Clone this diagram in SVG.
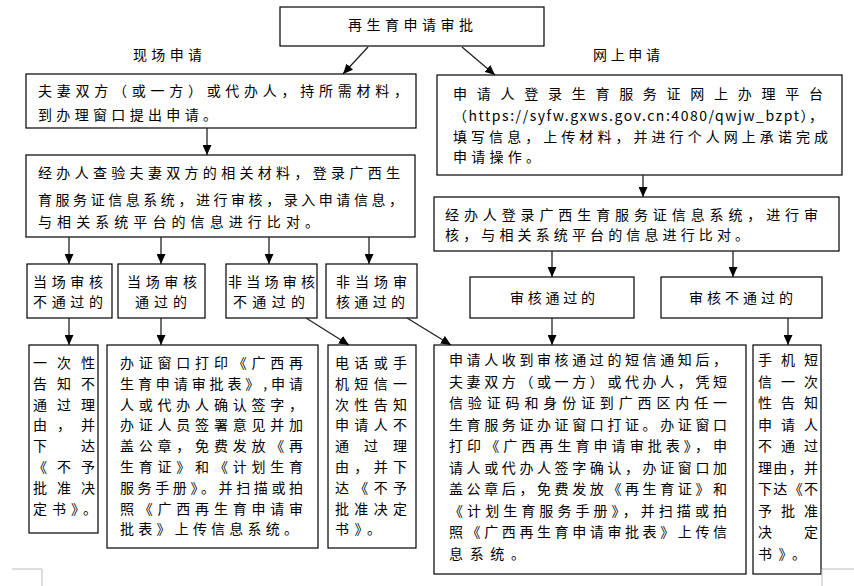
<svg xmlns="http://www.w3.org/2000/svg" width="854" height="586" viewBox="0 0 854 586">
<style>
.bx{fill:#fff;stroke:#000;stroke-width:1.2}
.t{font-family:"Noto Sans CJK SC","Noto Sans",sans-serif;font-size:14px;fill:#000}
.c{stroke:#222;stroke-width:1.3;fill:none;marker-end:url(#ah)}
.m{stroke:#bbb;stroke-width:1;fill:none}
</style>
<defs>
<marker id="ah" markerUnits="userSpaceOnUse" viewBox="0 0 10 9" refX="10" refY="4.5" markerWidth="10" markerHeight="9" orient="auto">
<path d="M0,0 L10,4.5 L0,9 z" fill="#000"/>
</marker>
</defs>
<rect width="854" height="586" fill="#fff"/>

<g id="title">
<rect class="bx" x="280" y="7" width="264" height="39"/>
<text class="t" x="348" y="30" textLength="125" lengthAdjust="spacing">再生育申请审批</text>
</g>
<g id="label-onsite"><text class="t" x="133" y="60" textLength="69" lengthAdjust="spacing">现场申请</text></g>
<g id="label-online"><text class="t" x="593" y="60" textLength="67" lengthAdjust="spacing">网上申请</text></g>

<g id="onsite-apply">
<rect class="bx" x="26" y="74" width="390" height="54"/>
<text class="t" x="38" y="96" textLength="370" lengthAdjust="spacing">夫妻双方（或一方）或代办人，持所需材料，</text>
<text class="t" x="38" y="120" textLength="179" lengthAdjust="spacing">到办理窗口提出申请。</text>
</g>

<g id="online-apply">
<rect class="bx" x="437" y="75" width="405" height="100"/>
<text class="t" x="453" y="99" textLength="370" lengthAdjust="spacing">申请人登录生育服务证网上办理平台</text>
<text class="t" x="453" y="121" textLength="370" lengthAdjust="spacing">（https://syfw.gxws.gov.cn:4080/qwjw_bzpt），</text>
<text class="t" x="453" y="142" textLength="375" lengthAdjust="spacing">填写信息，上传材料，并进行个人网上承诺完成</text>
<text class="t" x="453" y="162" textLength="87" lengthAdjust="spacing">申请操作。</text>
</g>

<g id="onsite-check">
<rect class="bx" x="26" y="155" width="389" height="82"/>
<text class="t" x="38" y="178" textLength="362" lengthAdjust="spacing">经办人查验夫妻双方的相关材料，登录广西生</text>
<text class="t" x="38" y="205" textLength="365" lengthAdjust="spacing">育服务证信息系统，进行审核，录入申请信息，</text>
<text class="t" x="38" y="227" textLength="281" lengthAdjust="spacing">与相关系统平台的信息进行比对。</text>
</g>

<g id="online-check">
<rect class="bx" x="434" y="197" width="405" height="54"/>
<text class="t" x="445" y="220" textLength="373" lengthAdjust="spacing">经办人登录广西生育服务证信息系统，进行审</text>
<text class="t" x="445" y="240" textLength="304" lengthAdjust="spacing">核，与相关系统平台的信息进行比对。</text>
</g>

<g id="onsite-fail">
<rect class="bx" x="27" y="264" width="85" height="54"/>
<text class="t" x="33" y="287" textLength="70" lengthAdjust="spacing">当场审核</text>
<text class="t" x="33" y="307" textLength="70" lengthAdjust="spacing">不通过的</text>
</g>
<g id="onsite-pass">
<rect class="bx" x="118" y="264" width="87" height="54"/>
<text class="t" x="127" y="287" textLength="70" lengthAdjust="spacing">当场审核</text>
<text class="t" x="135" y="307" textLength="52" lengthAdjust="spacing">通过的</text>
</g>
<g id="later-fail">
<rect class="bx" x="226" y="264" width="91" height="54"/>
<text class="t" x="228" y="287" textLength="87" lengthAdjust="spacing">非当场审核</text>
<text class="t" x="233" y="307" textLength="72" lengthAdjust="spacing">不通过的</text>
</g>
<g id="later-pass">
<rect class="bx" x="326" y="264" width="91" height="54"/>
<text class="t" x="336" y="287" textLength="71" lengthAdjust="spacing">非当场审</text>
<text class="t" x="336" y="307" textLength="69" lengthAdjust="spacing">核通过的</text>
</g>

<g id="online-pass">
<rect class="bx" x="470" y="277" width="164" height="41"/>
<text class="t" x="510" y="303" textLength="85" lengthAdjust="spacing">审核通过的</text>
</g>
<g id="online-fail">
<rect class="bx" x="661" y="277" width="161" height="41"/>
<text class="t" x="689" y="303" textLength="104" lengthAdjust="spacing">审核不通过的</text>
</g>

<g id="result-onsite-fail">
<rect class="bx" x="29" y="345" width="69" height="188"/>
<text class="t" x="33" y="368" textLength="62" lengthAdjust="spacing">一次性</text>
<text class="t" x="33" y="389" textLength="62" lengthAdjust="spacing">告知不</text>
<text class="t" x="33" y="410" textLength="62" lengthAdjust="spacing">通过理</text>
<text class="t" x="33" y="430" textLength="62" lengthAdjust="spacing">由，并</text>
<text class="t" x="33" y="451" textLength="62" lengthAdjust="spacing">下达</text>
<text class="t" x="33" y="472" textLength="62" lengthAdjust="spacing">《不予</text>
<text class="t" x="33" y="493" textLength="62" lengthAdjust="spacing">批准决</text>
<text class="t" x="33" y="514" textLength="64" lengthAdjust="spacing">定书》。</text>
</g>

<g id="result-onsite-pass">
<rect class="bx" x="107" y="345" width="211" height="203"/>
<text class="t" x="120" y="368" textLength="183" lengthAdjust="spacing">办证窗口打印《广西再</text>
<text class="t" x="120" y="389" textLength="183" lengthAdjust="spacing">生育申请审批表》,申请</text>
<text class="t" x="120" y="410" textLength="183" lengthAdjust="spacing">人或代办人确认签字，</text>
<text class="t" x="120" y="430" textLength="183" lengthAdjust="spacing">办证人员签署意见并加</text>
<text class="t" x="120" y="451" textLength="183" lengthAdjust="spacing">盖公章，免费发放《再</text>
<text class="t" x="120" y="472" textLength="183" lengthAdjust="spacing">生育证》和《计划生育</text>
<text class="t" x="120" y="493" textLength="183" lengthAdjust="spacing">服务手册》。并扫描或拍</text>
<text class="t" x="120" y="514" textLength="183" lengthAdjust="spacing">照《广西再生育申请审</text>
<text class="t" x="120" y="534" textLength="178" lengthAdjust="spacing">批表》上传信息系统。</text>
</g>

<g id="result-later-fail">
<rect class="bx" x="328" y="345" width="88" height="203"/>
<text class="t" x="335" y="368" textLength="72" lengthAdjust="spacing">电话或手</text>
<text class="t" x="335" y="389" textLength="72" lengthAdjust="spacing">机短信一</text>
<text class="t" x="335" y="410" textLength="72" lengthAdjust="spacing">次性告知</text>
<text class="t" x="335" y="430" textLength="72" lengthAdjust="spacing">申请人不</text>
<text class="t" x="335" y="451" textLength="72" lengthAdjust="spacing">通过理</text>
<text class="t" x="335" y="472" textLength="72" lengthAdjust="spacing">由，并下</text>
<text class="t" x="335" y="493" textLength="72" lengthAdjust="spacing">达《不予</text>
<text class="t" x="335" y="514" textLength="72" lengthAdjust="spacing">批准决定</text>
<text class="t" x="335" y="534" textLength="46" lengthAdjust="spacing">书》。</text>
</g>

<g id="result-pass">
<rect class="bx" x="434" y="345" width="312" height="229"/>
<text class="t" x="449" y="365" textLength="278" lengthAdjust="spacing">申请人收到审核通过的短信通知后，</text>
<text class="t" x="449" y="386.5" textLength="278" lengthAdjust="spacing">夫妻双方（或一方）或代办人，凭短</text>
<text class="t" x="449" y="408" textLength="278" lengthAdjust="spacing">信验证码和身份证到广西区内任一</text>
<text class="t" x="449" y="429.5" textLength="278" lengthAdjust="spacing">生育服务证办证窗口打证。办证窗口</text>
<text class="t" x="449" y="451" textLength="278" lengthAdjust="spacing">打印《广西再生育申请审批表》，申</text>
<text class="t" x="449" y="472.5" textLength="278" lengthAdjust="spacing">请人或代办人签字确认，办证窗口加</text>
<text class="t" x="449" y="494" textLength="278" lengthAdjust="spacing">盖公章后，免费发放《再生育证》和</text>
<text class="t" x="449" y="515.5" textLength="278" lengthAdjust="spacing">《计划生育服务手册》，并扫描或拍</text>
<text class="t" x="449" y="537" textLength="278" lengthAdjust="spacing">照《广西再生育申请审批表》上传信</text>
<text class="t" x="449" y="558.5" textLength="76" lengthAdjust="spacing">息系统。</text>
</g>

<g id="result-online-fail">
<rect class="bx" x="753" y="345" width="68" height="229"/>
<text class="t" x="758" y="365" textLength="60" lengthAdjust="spacing">手机短</text>
<text class="t" x="758" y="386.5" textLength="60" lengthAdjust="spacing">信一次</text>
<text class="t" x="758" y="408" textLength="60" lengthAdjust="spacing">性告知</text>
<text class="t" x="758" y="429.5" textLength="60" lengthAdjust="spacing">申请人</text>
<text class="t" x="758" y="451" textLength="60" lengthAdjust="spacing">不通过</text>
<text class="t" x="758" y="472.5" textLength="60" lengthAdjust="spacing">理由，并</text>
<text class="t" x="758" y="494" textLength="60" lengthAdjust="spacing">下达《不</text>
<text class="t" x="758" y="515.5" textLength="60" lengthAdjust="spacing">予批准</text>
<text class="t" x="758" y="537" textLength="60" lengthAdjust="spacing">决定</text>
<text class="t" x="758" y="558.5" textLength="48" lengthAdjust="spacing">书》。</text>
</g>

<g id="connectors">
<line class="c" x1="368" y1="47" x2="343" y2="74"/>
<line class="c" x1="462" y1="47" x2="495" y2="75"/>
<line class="c" x1="207" y1="128" x2="207" y2="155"/>
<line class="c" x1="643" y1="175" x2="643" y2="197"/>
<line class="c" x1="69" y1="237" x2="69" y2="264"/>
<line class="c" x1="161" y1="237" x2="161" y2="264"/>
<line class="c" x1="269" y1="237" x2="269" y2="264"/>
<line class="c" x1="369" y1="237" x2="369" y2="264"/>
<line class="c" x1="552" y1="251" x2="552" y2="277"/>
<line class="c" x1="733" y1="251" x2="733" y2="277"/>
<line class="c" x1="69" y1="318" x2="69" y2="345"/>
<line class="c" x1="161" y1="318" x2="161" y2="345"/>
<line class="c" x1="306" y1="318" x2="349" y2="345"/>
<line class="c" x1="407" y1="318" x2="451" y2="345"/>
<line class="c" x1="552" y1="318" x2="552" y2="345"/>
<line class="c" x1="788" y1="318" x2="788" y2="345"/>
</g>

<g id="page-marks">
<path class="m" d="M12,569 H42 V586"/>
<path class="m" d="M854,569 H822 V586"/>
</g>
</svg>
